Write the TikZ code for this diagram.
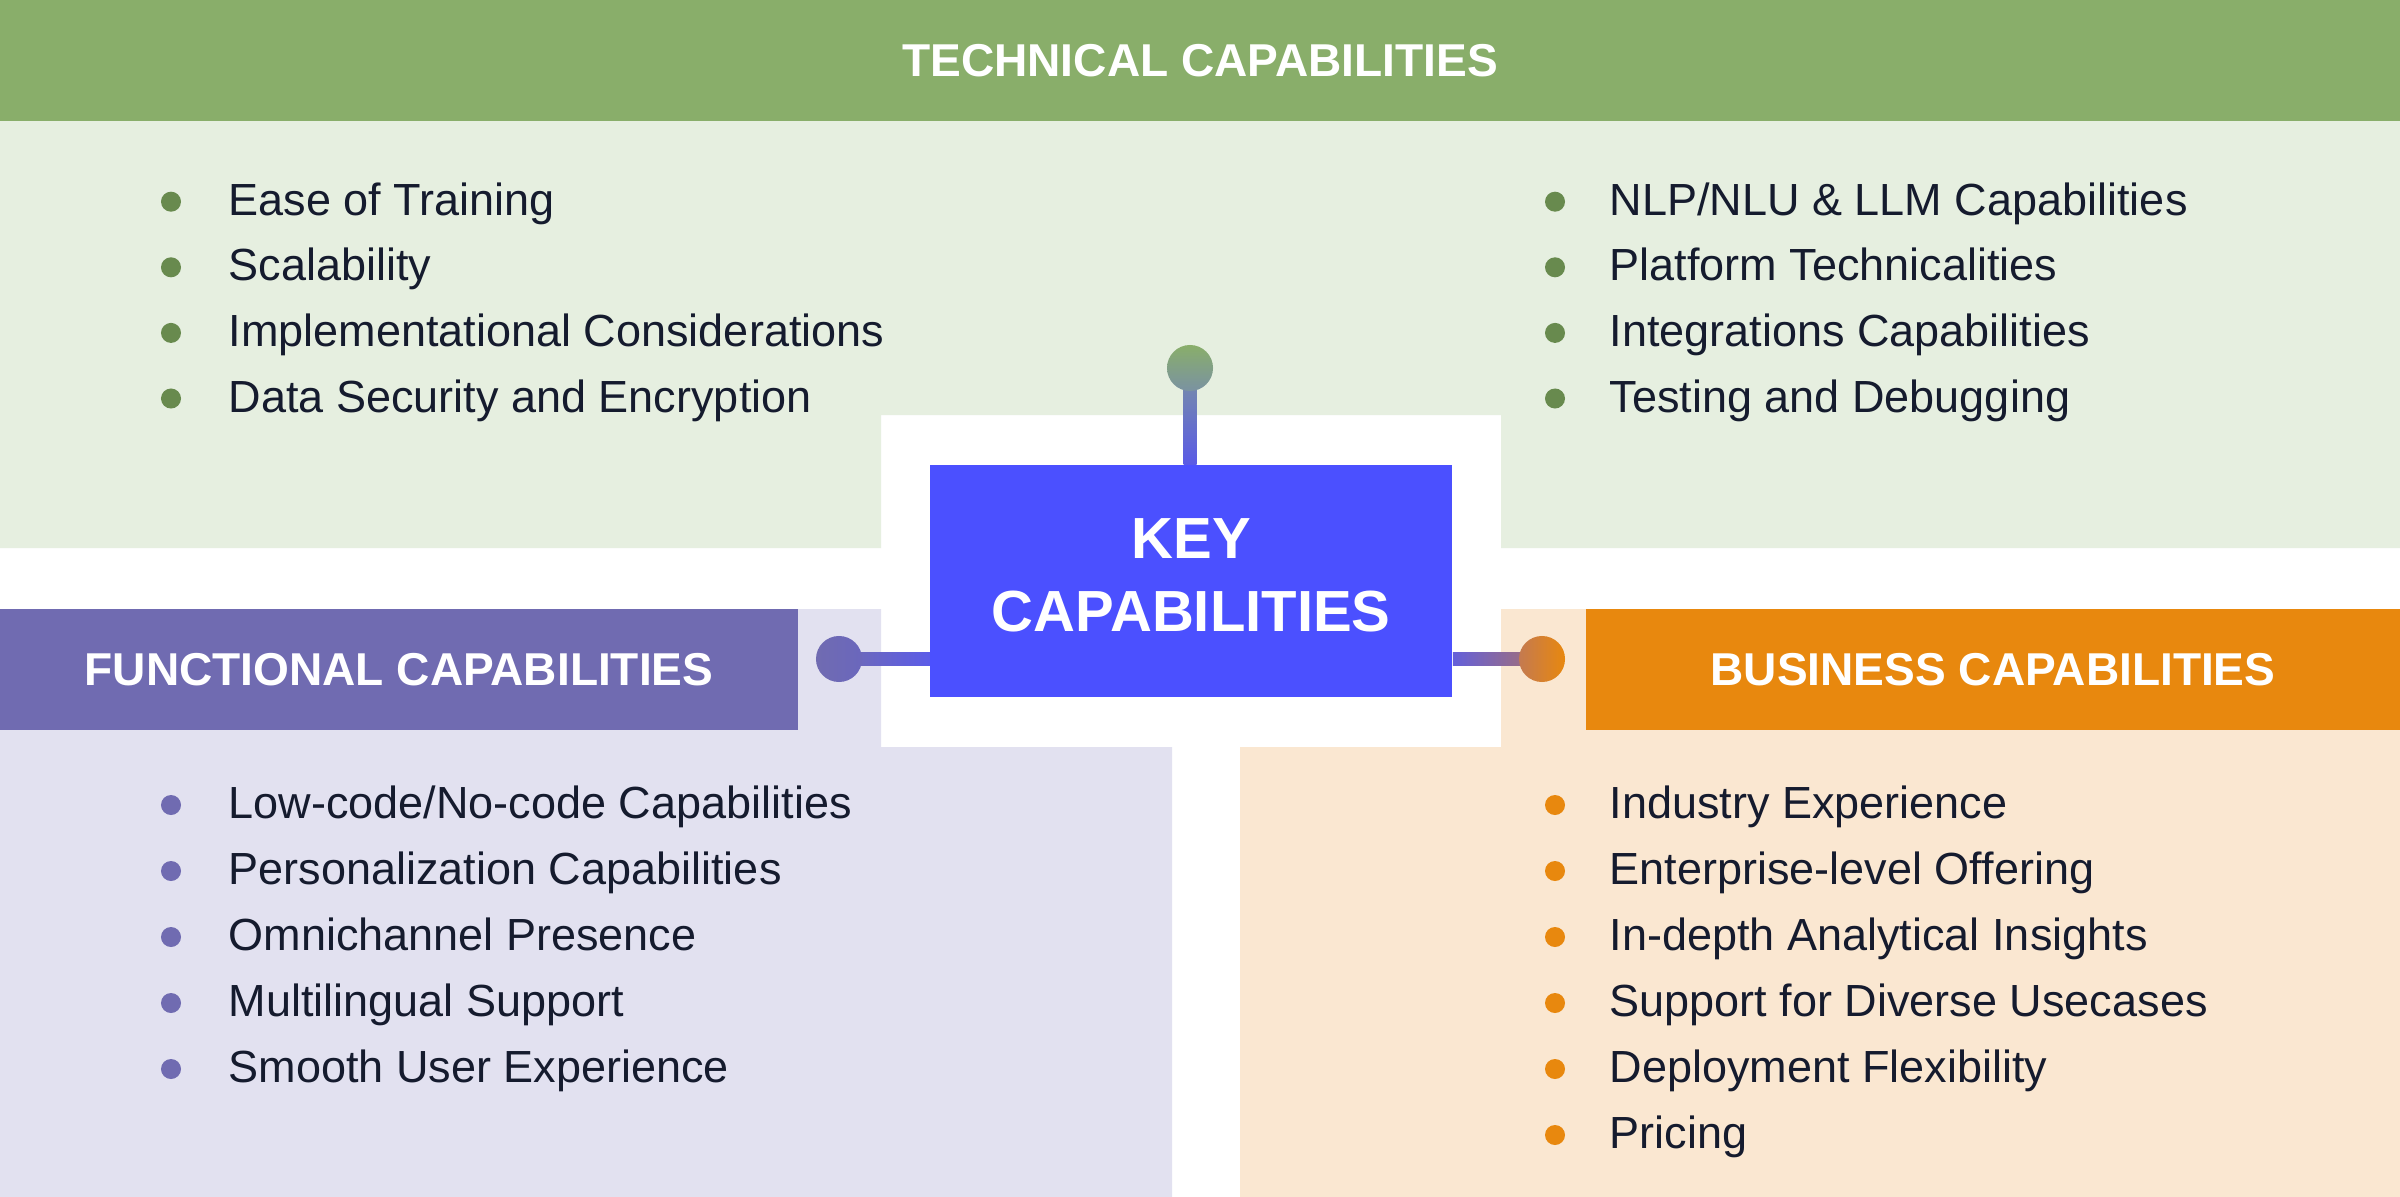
\documentclass[tikz,border=0pt]{standalone}
\usepackage{fontspec}
\setmainfont{Liberation Sans}
\usetikzlibrary{calc}
\definecolor{gHead}{HTML}{89AE6A}
\definecolor{gLight}{HTML}{E6EFE0}
\definecolor{gDot}{HTML}{688A4E}
\definecolor{pHead}{HTML}{706BB1}
\definecolor{pLight}{HTML}{E2E1F0}
\definecolor{pDot}{HTML}{706BB1}
\definecolor{oHead}{HTML}{E8880E}
\definecolor{oLight}{HTML}{FAE7D1}
\definecolor{oDot}{HTML}{E8880E}
\definecolor{keyblue}{HTML}{4B50FF}
\definecolor{ink}{HTML}{151B2E}
\definecolor{stemTop}{HTML}{7A92A2}
\definecolor{stemBot}{HTML}{5A5AE6}
\definecolor{lineBlue}{HTML}{5C5CE8}
\definecolor{rLineL}{HTML}{6460DA}
\definecolor{rLineR}{HTML}{A8706E}
\definecolor{rKnobL}{HTML}{C47A50}
\begin{document}
\begin{tikzpicture}[x=0.01cm,y=-0.01cm,
  hdr/.style={inner sep=0, minimum height=1.21cm, text=white,
    font=\bfseries\fontsize{13.1}{15}\selectfont},
  bul/.style={circle, inner sep=0, minimum size=0.2cm},
  itemtext/.style={anchor=base west, inner sep=0, text=ink,
    font=\fontsize{12.8}{15}\selectfont},
  knob/.style={circle, inner sep=0, minimum size=0.46cm}]
\useasboundingbox (0,0) rectangle (2400,1197);
\fill[white] (0,0) rectangle (2400,1197);
% regions
\fill[gLight] (0,121) -- (2400,121) -- (2400,548) -- (1501,548) -- (1501,415)
  -- (881,415) -- (881,548) -- (0,548) -- cycle;
\fill[pLight] (0,609) -- (881,609) -- (881,747) -- (1172,747) -- (1172,1197)
  -- (0,1197) -- cycle;
\fill[oLight] (1501,609) -- (2400,609) -- (2400,1197) -- (1240,1197)
  -- (1240,747) -- (1501,747) -- cycle;
% headers
\node[hdr, fill=gHead, minimum width=24cm] (tech) at (1200,60.5) {TECHNICAL CAPABILITIES};
\node[hdr, fill=pHead, minimum width=7.98cm] (func) at (399,669.5) {FUNCTIONAL CAPABILITIES};
\node[hdr, fill=oHead, minimum width=8.14cm] (bus) at (1993,669.5) {BUSINESS CAPABILITIES};
% key box
\node[fill=keyblue, minimum width=5.214cm, minimum height=2.32cm, inner sep=0,
  align=center, text=white, font=\bfseries\fontsize{16.5}{20.5}\selectfont]
  (key) at (1191.3,581) {KEY\\CAPABILITIES\rule[-3.4pt]{0pt}{3.4pt}};
% knobs
\coordinate (tcc) at (1190,368);
\coordinate (lcc) at (839,659);
\coordinate (rcc) at (1542,659);
\shade[top color=stemTop, bottom color=stemBot]
  ($(tcc)+(-6.5,0)$) rectangle ($(tcc |- key.north)+(6.5,0)$);
\shade[left color=pHead, right color=lineBlue]
  ($(lcc)+(0,-6.5)$) rectangle ($(lcc -| key.west)+(0,6.5)$);
\shade[left color=rLineL, right color=rLineR]
  ($(key.east |- rcc)+(0,-6.5)$) rectangle ($(rcc)+(0,6.5)$);
\node[knob, top color=gHead, bottom color=stemTop] (tc) at (tcc) {};
\node[knob, left color=pHead, right color=pHead!85!keyblue] (lc) at (lcc) {};
\node[knob, left color=rKnobL, right color=oHead] (rc) at (rcc) {};
% lists
\foreach \t [count=\i] in {Ease of Training, Scalability, Implementational Considerations, Data Security and Encryption} {
  \node[bul, fill=gDot] (tlb\i) at (171,{201.7+65.6*(\i-1)}) {};
  \node[itemtext] (tlt\i) at ($(tlb\i)+(57,13.5)$) {\t};
}
\foreach \t [count=\i] in {NLP/NLU \& LLM Capabilities, Platform Technicalities, Integrations Capabilities, Testing and Debugging} {
  \node[bul, fill=gDot] (trb\i) at (1555,{201.7+65.6*(\i-1)}) {};
  \node[itemtext] (trt\i) at ($(trb\i)+(54,13.5)$) {\t};
}
\foreach \t [count=\i] in {Low-code/No-code Capabilities, Personalization Capabilities, Omnichannel Presence, Multilingual Support, Smooth User Experience} {
  \node[bul, fill=pDot] (blb\i) at (171,{805+66*(\i-1)}) {};
  \node[itemtext] (blt\i) at ($(blb\i)+(57,13.5)$) {\t};
}
\foreach \t [count=\i] in {Industry Experience, Enterprise-level Offering, In-depth Analytical Insights, Support for Diverse Usecases, Deployment Flexibility, Pricing} {
  \node[bul, fill=oDot] (brb\i) at (1555,{805+66*(\i-1)}) {};
  \node[itemtext] (brt\i) at ($(brb\i)+(54,13.5)$) {\t};
}
\end{tikzpicture}
\end{document}
